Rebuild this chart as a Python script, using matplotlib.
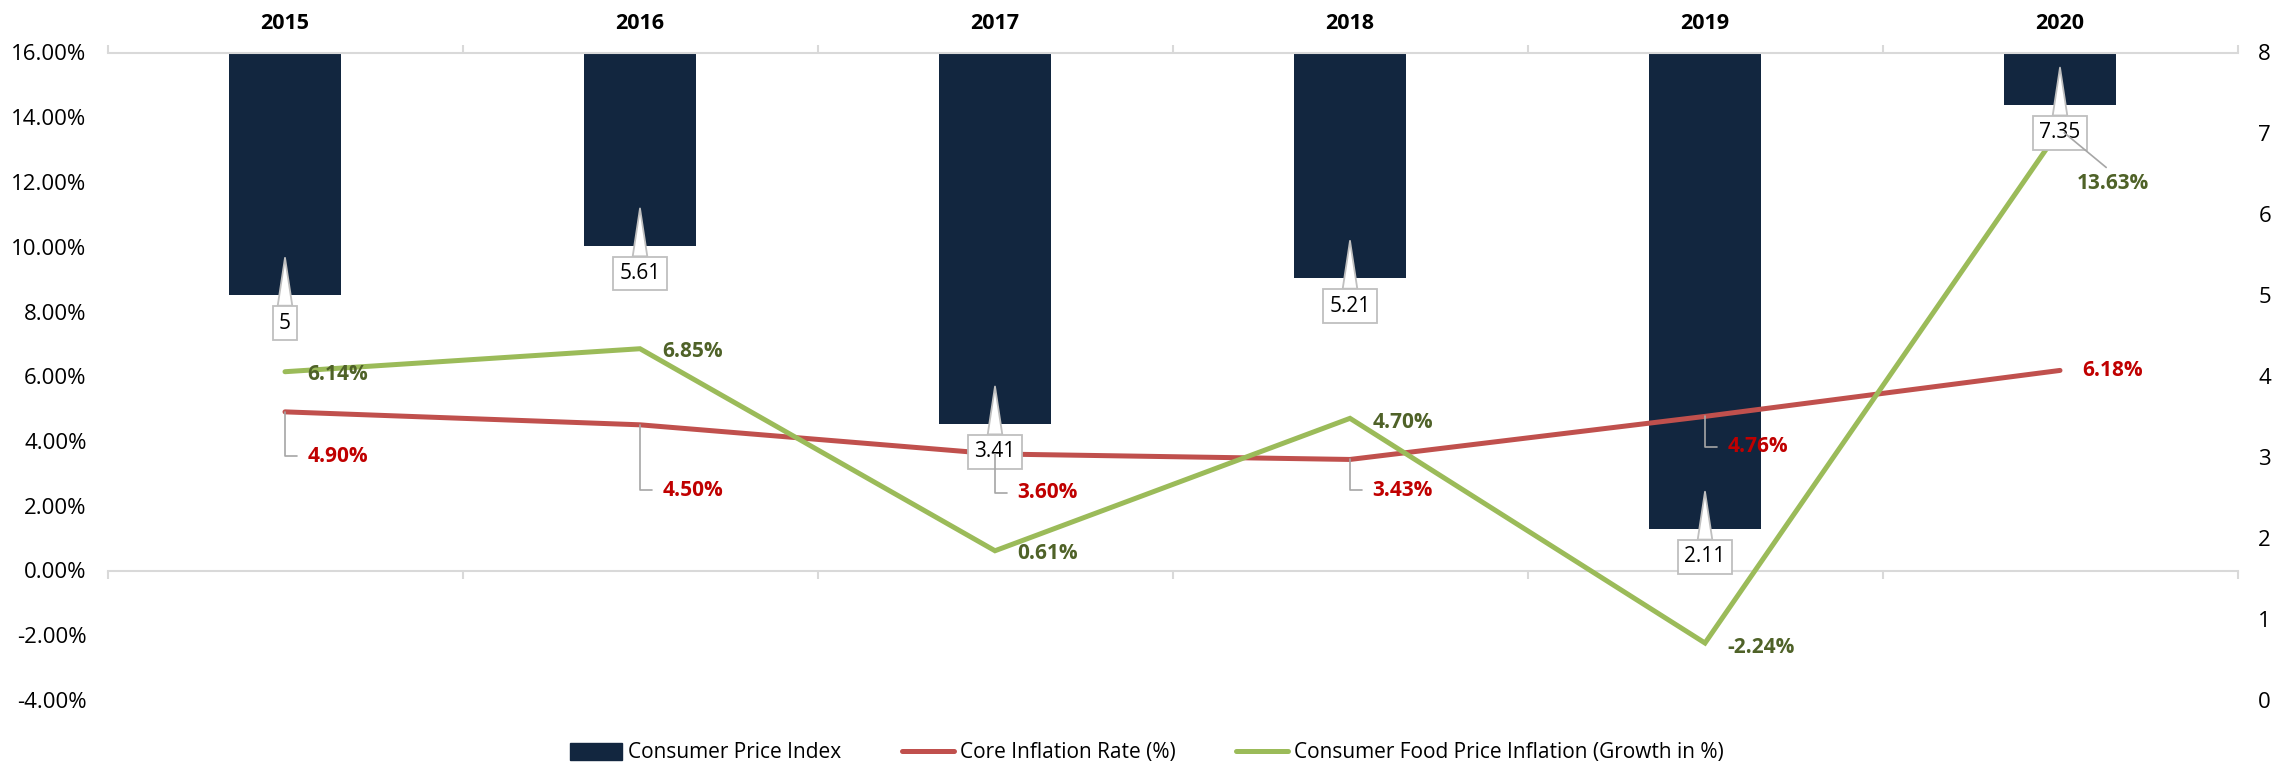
import matplotlib
matplotlib.use('Agg')
import matplotlib.pyplot as plt
import matplotlib.transforms as mtransforms
from matplotlib.lines import Line2D
from matplotlib.patches import Patch

# ---------------- data ----------------
years = ['2015', '2016', '2017', '2018', '2019', '2020']
cpi = [5, 5.61, 3.41, 5.21, 2.11, 7.35]                 # right axis
core = [4.90, 4.50, 3.60, 3.43, 4.76, 6.18]             # left axis, %
food = [6.14, 6.85, 0.61, 4.70, -2.24, 13.63]           # left axis, %
left_ticks = [-4, -2, 0, 2, 4, 6, 8, 10, 12, 14, 16]
right_ticks = [0, 1, 2, 3, 4, 5, 6, 7, 8]
series_names = ['Consumer Price Index', 'Core Inflation Rate (%)',
                'Consumer Food Price Inflation (Growth in %)']

# ---------------- label layout (points) ----------------
core_dy = [-32, -47, -28, -22, -22, 0]
core_leader = [True, True, True, True, True, False]
food_dx = [16, 16, 16, 16, 16, 38]
food_dy = [-2, -2, -2, -3, -3, -39]
food_ha = ['left', 'left', 'left', 'left', 'left', 'center']
food_leader = [False, False, False, False, False, True]

# ---------------- style ----------------
NAVY = '#12263F'
RED = '#C0504D'
GREEN = '#9BBB59'
RED_TXT = '#C00000'
GREEN_TXT = '#4F6228'
AXGRAY = '#D9D9D9'
LEADER = '#A6A6A6'
BOXEDGE = '#BFBFBF'

plt.rcParams['font.family'] = ['Open Sans', 'DejaVu Sans']

fig = plt.figure(figsize=(22.87, 7.64), dpi=100)
ax = fig.add_axes([107.5 / 2287, 64 / 764, 2130 / 2287, 647.5 / 764])
ax2 = ax.twinx()
ax.set_zorder(ax2.get_zorder() + 1)
ax.patch.set_visible(False)

x = list(range(len(years)))

# bars hang from the top of the right axis down to the value
ax2.bar(x, [v - right_ticks[-1] for v in cpi], bottom=right_ticks[-1],
        width=0.313, color=NAVY, zorder=1)
ax2.set_ylim(right_ticks[0], right_ticks[-1])
ax2.set_yticks(right_ticks)
ax2.set_yticklabels([str(t) for t in right_ticks])
ax2.tick_params(axis='y', length=0, pad=15, labelsize=16, labelcolor='black')
for s in ax2.spines.values():
    s.set_visible(False)

# lines
ax.plot(x, core, color=RED, lw=3.6, solid_capstyle='round',
        solid_joinstyle='miter', zorder=3)
ax.plot(x, food, color=GREEN, lw=3.6, solid_capstyle='round',
        solid_joinstyle='miter', zorder=3)

ax.set_xlim(-0.5, len(years) - 0.5)
ax.set_ylim(left_ticks[0], left_ticks[-1])
ax.set_yticks(left_ticks)
ax.set_yticklabels([f'{t:.2f}%' for t in left_ticks])
ax.tick_params(axis='y', length=0, pad=15, labelsize=16, labelcolor='black')

# category axis at top
ax.xaxis.tick_top()
ax.set_xticks(x)
ax.set_xticklabels(years, fontweight='bold', fontsize=15.5)
ax.set_xticks([i - 0.5 for i in range(len(years) + 1)], minor=True)
ax.tick_params(axis='x', which='major', length=0, pad=13)
ax.tick_params(axis='x', which='minor', top=True, bottom=False, length=6,
               width=1.5, color=AXGRAY, direction='out')
for k, s in ax.spines.items():
    s.set_visible(k == 'top')
ax.spines['top'].set_color(AXGRAY)
ax.spines['top'].set_linewidth(1.5)

# horizontal axis line at 0 %
zero_frac = (0 - left_ticks[0]) / (left_ticks[-1] - left_ticks[0])
sec = ax.secondary_xaxis(zero_frac)
sec.set_xticks([i - 0.5 for i in range(len(years) + 1)])
sec.tick_params(axis='x', length=6, width=1.5, color=AXGRAY,
                direction='out', labelbottom=False, labeltop=False)
for s in sec.spines.values():
    s.set_color(AXGRAY)
    s.set_linewidth(1.5)

# CPI callout labels
for xi, v in zip(x, cpi):
    tip = mtransforms.offset_copy(ax2.transData, fig=fig, x=0, y=27, units='points')
    box = mtransforms.offset_copy(ax2.transData, fig=fig, x=0, y=-20, units='points')
    ax.annotate(f'{v:g}', xy=(xi, v), xycoords=tip, xytext=(xi, v), textcoords=box,
                ha='center', va='center', fontsize=15, color='black',
                bbox=dict(boxstyle='square,pad=0.3', fc='white', ec=BOXEDGE, lw=1.3),
                arrowprops=dict(arrowstyle='wedge,tail_width=0.7,shrink_factor=0.5',
                                fc='white', ec=BOXEDGE, lw=1.3, shrinkA=0, shrinkB=0),
                zorder=5, annotation_clip=False)

# core inflation labels
for xi, v, dy, lead in zip(x, core, core_dy, core_leader):
    kw = {}
    if lead:
        kw['arrowprops'] = dict(arrowstyle='-', color=LEADER, lw=1.2,
                                connectionstyle='angle,angleA=0,angleB=90,rad=0',
                                relpos=(0, 0.5), shrinkA=5, shrinkB=0)
    ax.annotate(f'{v:.2f}%', xy=(xi, v), xytext=(16, dy), textcoords='offset points',
                ha='left', va='center', fontsize=15, fontweight='bold',
                color=RED_TXT, zorder=6, annotation_clip=False, **kw)

# food inflation labels
for xi, v, dx, dy, ha, lead in zip(x, food, food_dx, food_dy, food_ha, food_leader):
    kw = {}
    if lead:
        kw['arrowprops'] = dict(arrowstyle='-', color=LEADER, lw=1.2,
                                relpos=(0.5, 1.0), shrinkA=3, shrinkB=4)
    ax.annotate(f'{v:.2f}%', xy=(xi, v), xytext=(dx, dy), textcoords='offset points',
                ha=ha, va='center', fontsize=15, fontweight='bold',
                color=GREEN_TXT, zorder=6, annotation_clip=False, **kw)

# legend
handles = [Patch(facecolor=NAVY, edgecolor=NAVY),
           Line2D([], [], color=RED, lw=3.6, solid_capstyle='round'),
           Line2D([], [], color=GREEN, lw=3.6, solid_capstyle='round')]
fig.legend(handles, series_names, loc='center', bbox_to_anchor=(0.5015, 0.0144),
           ncol=3, frameon=False, fontsize=15, handlelength=2.5,
           handletextpad=0.3, columnspacing=2.9, handleheight=0.9,
           borderaxespad=0, borderpad=0)

fig.savefig('out.png', dpi=100)
